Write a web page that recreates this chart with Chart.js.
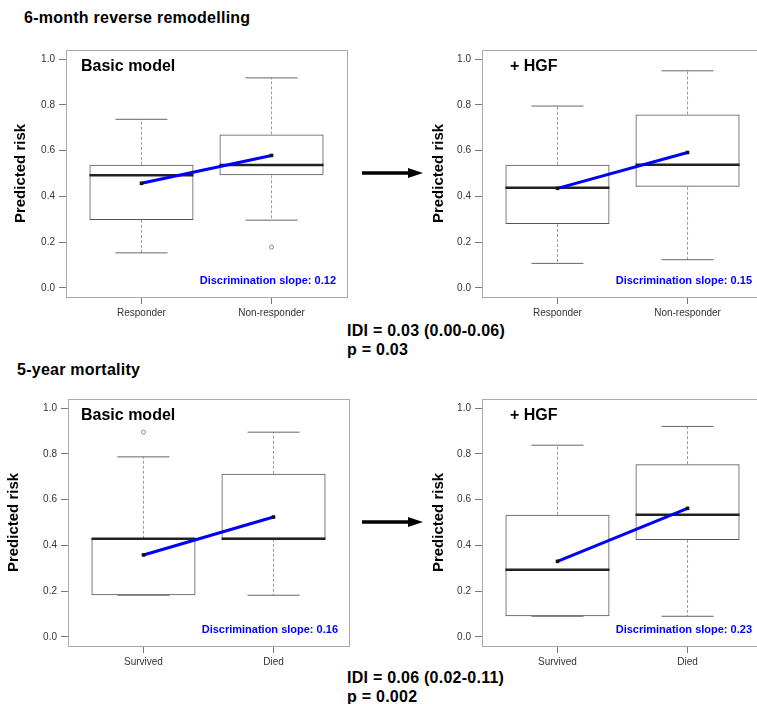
<!DOCTYPE html>
<html>
<head>
<meta charset="utf-8">
<script src="https://cdn.jsdelivr.net/npm/chart.js@4.4.0/dist/chart.umd.min.js"></script>
<style>
html, body { margin: 0; padding: 0; overflow: hidden; }
body { width: 757px; height: 704px; position: relative; background: #fff; font-family: "Liberation Sans", Arial, sans-serif; }
canvas.panel { position: absolute; }
.txt { position: absolute; font-weight: bold; font-size: 16px; line-height: 19px; color: #000; white-space: nowrap; letter-spacing: 0.25px; }
.arrow { position: absolute; }
</style>
</head>
<body>

<div class="txt" style="left:24px;top:8px">6-month reverse remodelling</div>
<div class="txt" style="left:17px;top:360px">5-year mortality</div>
<div class="txt" id="idiTop" style="left:347px;top:321px"></div>
<div class="txt" id="idiBottom" style="left:347px;top:668px"></div>

<svg class="arrow" style="left:358px;top:165px" width="70" height="16">
  <line x1="4" y1="8" x2="52" y2="8" stroke="#000" stroke-width="3.5"/>
  <polygon points="50,3 65,8 50,13" fill="#000"/>
</svg>
<svg class="arrow" style="left:358px;top:514px" width="70" height="16">
  <line x1="4" y1="8" x2="52" y2="8" stroke="#000" stroke-width="3.5"/>
  <polygon points="50,3 65,8 50,13" fill="#000"/>
</svg>

<canvas class="panel" id="remodBasic" width="360" height="290" style="left:0px;top:40px"></canvas>
<canvas class="panel" id="remodHgf" width="360" height="290" style="left:416px;top:40px"></canvas>
<canvas class="panel" id="mortBasic" width="360" height="290" style="left:2px;top:389px"></canvas>
<canvas class="panel" id="mortHgf" width="360" height="290" style="left:416px;top:389px"></canvas>

<script>
// categories
const remodLabels = ['Responder', 'Non-responder'];
const mortLabels = ['Survived', 'Died'];
const yTicks = [0, 0.2, 0.4, 0.6, 0.8, 1.0];

// box stats per group: [lower whisker, Q1, median, Q3, upper whisker]
const remodBasicBoxes = [[0.153, 0.297, 0.492, 0.538, 0.737], [0.296, 0.492, 0.537, 0.671, 0.918]];
const remodBasicMeans = [0.457, 0.579];
const remodBasicOutliers = [[], [0.178]];

const remodHgfBoxes = [[0.107, 0.279, 0.438, 0.538, 0.795], [0.123, 0.442, 0.538, 0.758, 0.949]];
const remodHgfMeans = [0.435, 0.592];
const remodHgfOutliers = [[], []];

const mortBasicBoxes = [[0.182, 0.182, 0.429, 0.429, 0.787], [0.182, 0.429, 0.429, 0.713, 0.895]];
const mortBasicMeans = [0.358, 0.524];
const mortBasicOutliers = [[0.895], []];

const mortHgfBoxes = [[0.09, 0.09, 0.293, 0.534, 0.838], [0.09, 0.424, 0.534, 0.755, 0.92]];
const mortHgfMeans = [0.33, 0.562];
const mortHgfOutliers = [[], []];

// discrimination slopes and IDI
const slopes = ['0.12', '0.15', '0.16', '0.23'];
const idiRemod = ['IDI = 0.03 (0.00-0.06)', 'p = 0.03'];
const idiMort = ['IDI = 0.06 (0.02-0.11)', 'p = 0.002'];

document.getElementById('idiTop').innerHTML = idiRemod.join('<br>');
document.getElementById('idiBottom').innerHTML = idiMort.join('<br>');

const FONT = '"Liberation Sans", Arial, sans-serif';

// whiskers, caps and medians drawn right after the boxes
const boxExtras = {
    id: 'boxExtras',
    afterDatasetDraw(chart, args) {
        if (args.index !== 0) return;
        const { ctx, scales: { y } } = chart;
        const stats = chart.data.datasets[0].stats;
        const line = (x1, y1, x2, y2) => {
            ctx.beginPath(); ctx.moveTo(x1, y1); ctx.lineTo(x2, y2); ctx.stroke();
        };
        ctx.save();
        stats.forEach((b, i) => {
            const bar = args.meta.data[i];
            const cx = bar.x;
            const half = bar.width / 2;
            const [lo, q1, med, q3, hi] = b.map(v => y.getPixelForValue(v));
            ctx.lineWidth = 1;
            ctx.strokeStyle = '#999';
            ctx.setLineDash([3, 2]);
            line(cx, q3, cx, hi);
            line(cx, q1, cx, lo);
            ctx.setLineDash([]);
            ctx.strokeStyle = '#666';
            line(cx - half / 2, hi, cx + half / 2, hi);
            line(cx - half / 2, lo, cx + half / 2, lo);
            ctx.strokeStyle = '#222';
            ctx.lineWidth = 2.5;
            line(cx - half, med, cx + half, med);
        });
        ctx.restore();
    }
};

// frame, panel title and slope text
const panelText = {
    id: 'panelText',
    afterDraw(chart, args, opts) {
        const { ctx, chartArea: a } = chart;
        ctx.save();
        ctx.strokeStyle = '#aaa';
        ctx.lineWidth = 1;
        ctx.strokeRect(Math.round(a.left) + 0.5, Math.round(a.top) + 0.5, a.right - a.left, a.bottom - a.top);
        ctx.fillStyle = '#000';
        ctx.font = `bold 16px ${FONT}`;
        ctx.textBaseline = 'alphabetic';
        ctx.textAlign = 'left';
        ctx.fillText(opts.title, a.left + opts.titleX, a.top + 20.5);
        ctx.fillStyle = '#0000ff';
        ctx.font = `bold 11px ${FONT}`;
        ctx.textAlign = 'right';
        ctx.fillText('Discrimination slope: ' + opts.slope, a.right - 11, a.bottom - 13);
        ctx.restore();
    }
};

function makePanel(id, labels, boxes, means, outliers, title, titleX, slope, yTitlePad) {
    const outlierPts = [];
    outliers.forEach((list, i) => list.forEach(v => outlierPts.push({ x: i + 1, y: v })));

    new Chart(document.getElementById(id), {
        type: 'bar',
        data: {
            datasets: [{
                type: 'bar',
                order: 3,
                stats: boxes,
                data: boxes.map((b, i) => ({ x: i + 1, y: [b[1], b[3]] })),
                backgroundColor: 'rgba(255,255,255,0)',
                borderColor: '#555',
                borderWidth: 1,
                borderSkipped: false,
                barPercentage: 1,
                categoryPercentage: 0.8,
            }, {
                type: 'line',
                order: 2,
                data: outlierPts,
                showLine: false,
                pointStyle: 'circle',
                pointRadius: 2,
                pointBorderWidth: 1,
                pointBorderColor: '#888',
                pointBackgroundColor: 'rgba(255,255,255,0)',
            }, {
                type: 'line',
                order: 1,
                data: means.map((m, i) => ({ x: i + 1, y: m })),
                borderColor: '#0000ff',
                borderWidth: 3,
                pointStyle: 'rect',
                pointRadius: 2.5,
                pointBorderWidth: 0,
                pointBackgroundColor: '#111',
            }]
        },
        options: {
            responsive: false,
            animation: false,
            layout: { padding: { left: 0, top: 10, right: 13, bottom: 0 } },
            plugins: {
                legend: { display: false },
                tooltip: { enabled: false },
                panelText: { title: title, titleX: titleX, slope: slope },
            },
            scales: {
                x: {
                    type: 'linear',
                    min: 0.42,
                    max: 2.58,
                    offset: false,
                    afterBuildTicks: s => { s.ticks = labels.map((l, i) => ({ value: i + 1 })); },
                    afterFit: s => { s.height = 33; },
                    ticks: {
                        callback: v => labels[v - 1],
                        autoSkip: false,
                        maxRotation: 0,
                        padding: 3,
                        color: '#333',
                        font: { family: FONT, size: 10 },
                    },
                    grid: { drawOnChartArea: false, drawTicks: true, tickLength: 7, color: '#777', offset: false },
                    border: { display: false },
                },
                y: {
                    type: 'linear',
                    min: -0.04,
                    max: 1.04,
                    afterBuildTicks: s => { s.ticks = yTicks.map(v => ({ value: v })); },
                    afterFit: s => { s.width = 66; },
                    ticks: {
                        callback: v => v.toFixed(1),
                        padding: 4,
                        color: '#333',
                        font: { family: FONT, size: 10 },
                    },
                    grid: { drawOnChartArea: false, drawTicks: true, tickLength: 7, color: '#777' },
                    border: { display: false },
                    title: {
                        display: true,
                        text: 'Predicted risk',
                        color: '#000',
                        font: { family: FONT, size: 15, weight: 'bold' },
                        padding: { top: yTitlePad, bottom: 0 },
                    },
                },
            },
        },
        plugins: [boxExtras, panelText],
    });
}

makePanel('remodBasic', remodLabels, remodBasicBoxes, remodBasicMeans, remodBasicOutliers, 'Basic model', 15, slopes[0], 12);
makePanel('remodHgf', remodLabels, remodHgfBoxes, remodHgfMeans, remodHgfOutliers, '+ HGF', 28, slopes[1], 14);
makePanel('mortBasic', mortLabels, mortBasicBoxes, mortBasicMeans, mortBasicOutliers, 'Basic model', 13, slopes[2], 3);
makePanel('mortHgf', mortLabels, mortHgfBoxes, mortHgfMeans, mortHgfOutliers, '+ HGF', 28, slopes[3], 14);
</script>
</body>
</html>
